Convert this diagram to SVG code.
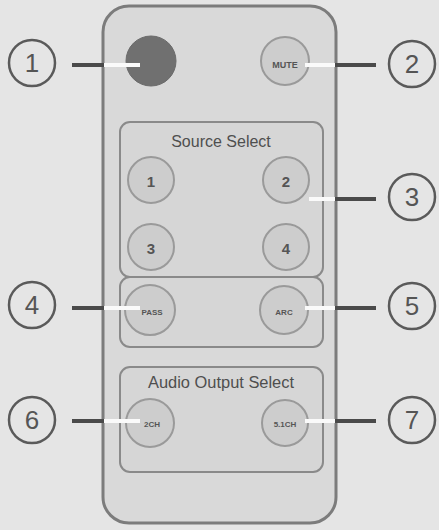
<svg xmlns="http://www.w3.org/2000/svg" width="439" height="530" viewBox="0 0 439 530">
<style>
.callout circle{fill:none;stroke:#5a5a5a;stroke-width:2.5}
.callout text{font-family:"Liberation Sans",Arial,sans-serif;font-size:26px;fill:#555;text-anchor:middle}
.btn{fill:#cdcdcd;stroke:#9a9a9a;stroke-width:2}
.bt{font-family:"Liberation Sans",Arial,sans-serif;fill:#555;text-anchor:middle;font-weight:bold}
.panel{fill:#d6d6d6;stroke:#8a8a8a;stroke-width:2}
.ptitle{font-family:"Liberation Sans",Arial,sans-serif;font-size:16px;fill:#4f4f4f;text-anchor:middle}
.dark{stroke:#4a4a4a;stroke-width:4}
.light{stroke:#fafafa;stroke-width:4}
</style>
<rect width="439" height="530" fill="#e5e5e5"/>
<g id="remote">
<rect x="103" y="6" width="233" height="517" rx="26" fill="#d9d9d9" stroke="#7c7c7c" stroke-width="3"/>
</g>
<g id="panel-source">
<rect class="panel" x="120" y="122" width="203" height="155" rx="10"/>
<text class="ptitle" x="221" y="147">Source Select</text>
</g>
<g id="panel-arc">
<rect class="panel" x="120" y="277" width="203" height="70" rx="10"/>
</g>
<g id="panel-audio">
<rect class="panel" x="120" y="367" width="203" height="105" rx="10"/>
<text class="ptitle" x="221" y="388" textLength="146" lengthAdjust="spacingAndGlyphs">Audio Output Select</text>
</g>
<g id="btn-power"><circle cx="151" cy="61" r="25" fill="#707070" stroke="#6a6a6a" stroke-width="1"/></g>
<g id="btn-mute"><circle class="btn" cx="285" cy="61" r="24"/><text class="bt" x="285" y="68" font-size="9">MUTE</text></g>
<g id="btn-s1"><circle class="btn" cx="151" cy="180" r="23"/><text class="bt" x="151" y="187" font-size="15">1</text></g>
<g id="btn-s2"><circle class="btn" cx="286" cy="180" r="23"/><text class="bt" x="286" y="187" font-size="15">2</text></g>
<g id="btn-s3"><circle class="btn" cx="151" cy="247" r="23"/><text class="bt" x="151" y="254" font-size="15">3</text></g>
<g id="btn-s4"><circle class="btn" cx="286" cy="247" r="23"/><text class="bt" x="286" y="254" font-size="15">4</text></g>
<g id="btn-pass"><circle class="btn" cx="150" cy="310" r="25"/><text class="bt" x="152" y="315" font-size="8">PASS</text></g>
<g id="btn-arc"><circle class="btn" cx="284" cy="310" r="24"/><text class="bt" x="284" y="315" font-size="8">ARC</text></g>
<g id="btn-2ch"><circle class="btn" cx="150" cy="423" r="24"/><text class="bt" x="152" y="427" font-size="8">2CH</text></g>
<g id="btn-51ch"><circle class="btn" cx="285" cy="423" r="23"/><text class="bt" x="285" y="427" font-size="8">5.1CH</text></g>
<g id="connectors">
<line class="dark" x1="72" y1="65" x2="104" y2="65"/><line class="light" x1="104" y1="65" x2="140" y2="65"/>
<line class="light" x1="305" y1="65" x2="335" y2="65"/><line class="dark" x1="335" y1="65" x2="376" y2="65"/>
<line class="light" x1="309" y1="199" x2="335" y2="199"/><line class="dark" x1="335" y1="199" x2="376" y2="199"/>
<line class="dark" x1="72" y1="308" x2="104" y2="308"/><line class="light" x1="104" y1="308" x2="140" y2="308"/>
<line class="light" x1="305" y1="308" x2="335" y2="308"/><line class="dark" x1="335" y1="308" x2="376" y2="308"/>
<line class="dark" x1="72" y1="421" x2="104" y2="421"/><line class="light" x1="104" y1="421" x2="140" y2="421"/>
<line class="light" x1="305" y1="421" x2="335" y2="421"/><line class="dark" x1="335" y1="421" x2="376" y2="421"/>
</g>
<g id="callout-1" class="callout"><circle cx="32" cy="63" r="23"/><text x="32" y="72">1</text></g>
<g id="callout-2" class="callout"><circle cx="412" cy="64" r="23"/><text x="412" y="73">2</text></g>
<g id="callout-3" class="callout"><circle cx="412" cy="197" r="23"/><text x="412" y="206">3</text></g>
<g id="callout-4" class="callout"><circle cx="32" cy="305" r="23"/><text x="32" y="314">4</text></g>
<g id="callout-5" class="callout"><circle cx="412" cy="306" r="23"/><text x="412" y="315">5</text></g>
<g id="callout-6" class="callout"><circle cx="32" cy="420" r="23"/><text x="32" y="429">6</text></g>
<g id="callout-7" class="callout"><circle cx="412" cy="420" r="23"/><text x="412" y="429">7</text></g>
</svg>
